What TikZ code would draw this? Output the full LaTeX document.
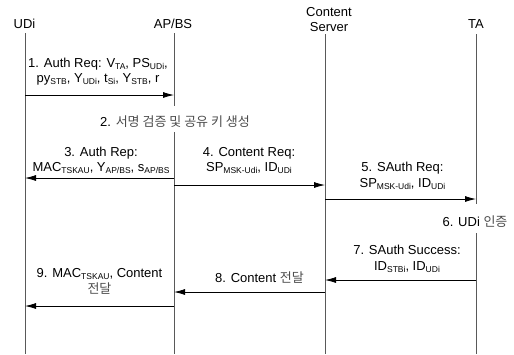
\documentclass[tikz,border=0pt]{standalone}
\usepackage{fontspec}
\setmainfont{Liberation Sans}
\newfontfamily\kr{Noto Sans CJK KR}
\usetikzlibrary{arrows.meta}
\newcommand\sbs[1]{\raisebox{-0.3ex}{\fontsize{8.5}{8.5}\selectfont #1}}
\newcommand\ko[1]{{\kr\color{black!70}#1}}
\begin{document}
\begin{tikzpicture}[x=1pt,y=-1pt,
  hdr/.style={font=\fontsize{13}{15}\selectfont, inner sep=0pt, align=center},
  lbl/.style={font=\fontsize{13}{15.5}\selectfont, inner sep=0pt, align=center},
  life/.style={draw=black!65, line width=0.9pt},
  msg/.style={draw=black, line width=0.8pt, -{Latex[length=11pt,width=6pt]}}]
\useasboundingbox (0,0) rectangle (514,354);
% headers
\node[hdr] (hU) at (24.5,24) {UDi};
\node[hdr] (hA) at (173,24) {AP/BS};
\node[hdr] (hC) at (329,19.5) {Content\\Server};
\node[hdr] (hT) at (476,24) {TA};
% lifeline coordinates
\coordinate (u0) at (25,33);  \coordinate (uE) at (25,354);
\coordinate (a0) at (174,33); \coordinate (aG1) at (174,106); \coordinate (aG2) at (174,132); \coordinate (aE) at (174,354);
\coordinate (c0) at (325,34); \coordinate (cE) at (325,354);
\coordinate (t0) at (476,34); \coordinate (tG1) at (476,204); \coordinate (tG2) at (476,233); \coordinate (tE) at (476,354);
\draw[life] (u0) -- (uE);
\draw[life] (a0) -- (aG1) (aG2) -- (aE);
\draw[life] (c0) -- (cE);
\draw[life] (t0) -- (tG1) (tG2) -- (tE);
% message endpoints
\coordinate (u1) at (25,95);   \coordinate (a1) at (174,95);
\coordinate (a3) at (174,178); \coordinate (u3) at (25,178);
\coordinate (a4) at (174,185); \coordinate (c4) at (325,185);
\coordinate (c5) at (325,199); \coordinate (t5) at (476,199);
\coordinate (t7) at (476,280); \coordinate (c7) at (325,280);
\coordinate (c8) at (325,292); \coordinate (a8) at (174,292);
\coordinate (a9) at (174,306); \coordinate (u9) at (25,306);
\draw[msg] (u1) -- (a1);
\draw[msg] (a3) -- (u3);
\draw[msg] (a4) -- (c4);
\draw[msg] (c5) -- (t5);
\draw[msg] (t7) -- (c7);
\draw[msg] (c8) -- (a8);
\draw[msg] (a9) -- (u9);
% labels
\node[lbl] (l1) at (98,71.5) {1. Auth Req: V\sbs{TA}, PS\sbs{UDi},\\py\sbs{STB}, Y\sbs{UDi}, t\sbs{Si}, Y\sbs{STB}, r};
\node[lbl] (l2) at (175,122) {2. \ko{서명 검증 및 공유 키 생성}};
\node[lbl] (l3) at (101,160.5) {3. Auth Rep:\\MAC\sbs{TSKAU}, Y\sbs{AP/BS}, s\sbs{AP/BS}};
\node[lbl] (l4) at (249,160.5) {4. Content Req:\\SP\sbs{MSK-Udi}, ID\sbs{UDi}};
\node[lbl] (l5) at (402.5,176) {5. SAuth Req:\\SP\sbs{MSK-Udi}, ID\sbs{UDi}};
\node[lbl] (l6) at (475,222) {6. UDi \ko{인증}};
\node[lbl] (l7) at (407,259) {7. SAuth Success:\\ID\sbs{STBi}, ID\sbs{UDi}};
\node[lbl] (l8) at (259.5,278) {8. Content \ko{전달}};
\node[lbl] (l9) at (99.5,281.5) {9. MAC\sbs{TSKAU}, Content\\\ko{전달}};
\end{tikzpicture}
\end{document}
